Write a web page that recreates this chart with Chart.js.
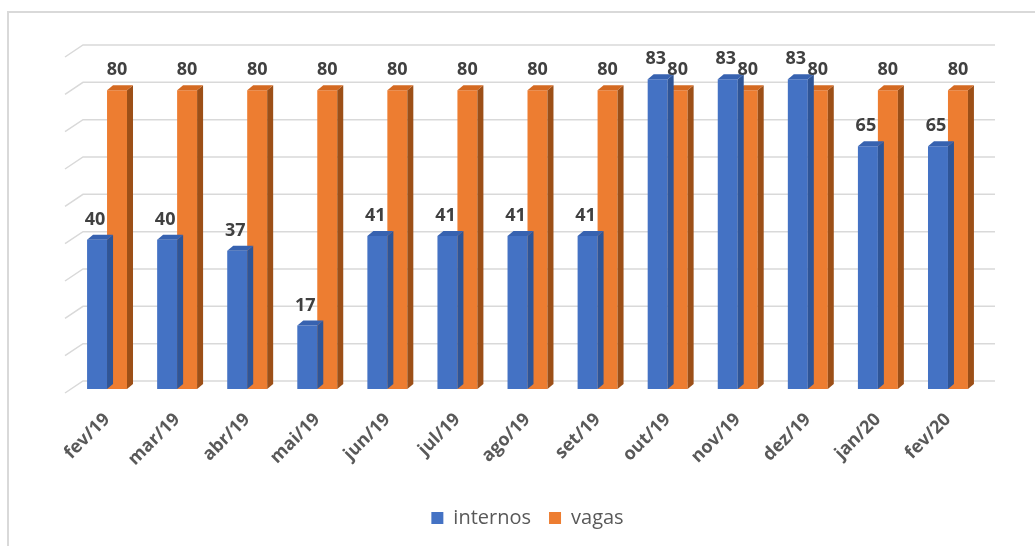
<!DOCTYPE html>
<html>
<head>
<meta charset="utf-8">
<script src="https://cdn.jsdelivr.net/npm/chart.js@4.4.1/dist/chart.umd.min.js"></script>
<style>
  html, body { margin: 0; padding: 0; background: #fff; }
  #wrap { width: 1035px; height: 546px; }
</style>
</head>
<body>
<div id="wrap"><canvas id="chartInternos" width="1035" height="546"></canvas></div>
<script>
// dados
const meses = ["fev/19", "mar/19", "abr/19", "mai/19", "jun/19", "jul/19", "ago/19", "set/19", "out/19", "nov/19", "dez/19", "jan/20", "fev/20"];
const internos = [40, 40, 37, 17, 41, 41, 41, 41, 83, 83, 83, 65, 65];
const vagas = [80, 80, 80, 80, 80, 80, 80, 80, 80, 80, 80, 80, 80];

const AZUL = "#4472C4";
const LARANJA = "#ED7D31";
const LADO = { 0: "#2F5597", 1: "#9C4F17" }; // face lateral
const TOPO = { 0: "#3762B0", 1: "#D46A22" }; // face de cima
const PROF_X = 6, PROF_Y = 5; // profundidade do efeito 3d

// moldura (só topo e esquerda aparecem no recorte)
const molduraPlugin = {
  id: "moldura",
  beforeDraw(chart) {
    const ctx = chart.ctx;
    ctx.save();
    ctx.strokeStyle = "#d9d9d9";
    ctx.lineWidth = 2;
    ctx.beginPath();
    ctx.moveTo(8, 546);
    ctx.lineTo(8, 12);
    ctx.lineTo(1035, 12);
    ctx.stroke();
    ctx.restore();
  },
};

// linhas de grade na parede do fundo, com a parte inclinada à esquerda
const gradePlugin = {
  id: "grade3d",
  beforeDatasetsDraw(chart) {
    const ctx = chart.ctx;
    const y = chart.scales.y;
    const area = chart.chartArea;
    ctx.save();
    ctx.strokeStyle = "#d9d9d9";
    ctx.lineWidth = 1.5;
    for (let v = 0; v <= 90; v += 10) {
      const py = y.getPixelForValue(v) - 8;
      ctx.beginPath();
      ctx.moveTo(area.left - 7, py + 12);
      ctx.lineTo(area.left + 11, py);
      ctx.lineTo(area.right + 12, py);
      ctx.stroke();
    }
    ctx.restore();
  },
};

// faces lateral e de cima de cada barra
const barras3dPlugin = {
  id: "barras3d",
  afterDatasetDraw(chart, args) {
    const ctx = chart.ctx;
    const i = args.index;
    const meta = chart.getDatasetMeta(i);
    ctx.save();
    meta.data.forEach((bar) => {
      const r = bar.x + bar.width / 2;
      const l = bar.x - bar.width / 2;
      const t = bar.y;
      const b = bar.base;
      ctx.fillStyle = LADO[i];
      ctx.beginPath();
      ctx.moveTo(r, t);
      ctx.lineTo(r + PROF_X, t - PROF_Y);
      ctx.lineTo(r + PROF_X, b - PROF_Y);
      ctx.lineTo(r, b);
      ctx.closePath();
      ctx.fill();
      ctx.fillStyle = TOPO[i];
      ctx.beginPath();
      ctx.moveTo(l, t);
      ctx.lineTo(l + PROF_X, t - PROF_Y);
      ctx.lineTo(r + PROF_X, t - PROF_Y);
      ctx.lineTo(r, t);
      ctx.closePath();
      ctx.fill();
    });
    ctx.restore();
  },
};

// rótulos de valor em cima das barras
const rotulosPlugin = {
  id: "rotulos",
  afterDatasetsDraw(chart) {
    const ctx = chart.ctx;
    ctx.save();
    ctx.font = "bold 18px 'Open Sans'";
    ctx.fillStyle = "#404040";
    ctx.textAlign = "center";
    ctx.textBaseline = "middle";
    chart.data.datasets.forEach((ds, i) => {
      chart.getDatasetMeta(i).data.forEach((bar, j) => {
        ctx.fillText(ds.data[j], bar.x - (i === 0 ? 2 : 0), bar.y - 20);
      });
    });
    ctx.restore();
  },
};

const chartInternosConfig = {
  type: "bar",
  data: {
    labels: meses,
    datasets: [
      {
        label: "internos",
        data: internos,
        backgroundColor: AZUL,
        categoryPercentage: 0.57,
        barPercentage: 1,
      },
      {
        label: "vagas",
        data: vagas,
        backgroundColor: LARANJA,
        categoryPercentage: 0.57,
        barPercentage: 1,
      },
    ],
  },
  options: {
    responsive: false,
    animation: false,
    layout: {
      padding: { left: 72, right: 52, top: 53, bottom: 8 },
    },
    plugins: {
      legend: {
        position: "bottom",
        labels: {
          boxWidth: 12,
          boxHeight: 12,
          padding: 18,
          color: "#595959",
          font: { family: "'Open Sans'", size: 20 },
        },
      },
      tooltip: { enabled: false },
    },
    scales: {
      x: {
        grid: { display: false },
        border: { display: false },
        afterFit(scale) {
          scale.height = 101;
        },
        ticks: {
          minRotation: 45,
          maxRotation: 45,
          color: "#595959",
          padding: 12,
          font: { family: "'Open Sans'", size: 18, weight: "bold" },
        },
      },
      y: {
        display: false,
        min: 0,
        max: 90,
        ticks: { stepSize: 10 },
      },
    },
  },
  plugins: [molduraPlugin, gradePlugin, barras3dPlugin, rotulosPlugin],
};

const chartInternos = new Chart(document.getElementById("chartInternos"), chartInternosConfig);
</script>
</body>
</html>
